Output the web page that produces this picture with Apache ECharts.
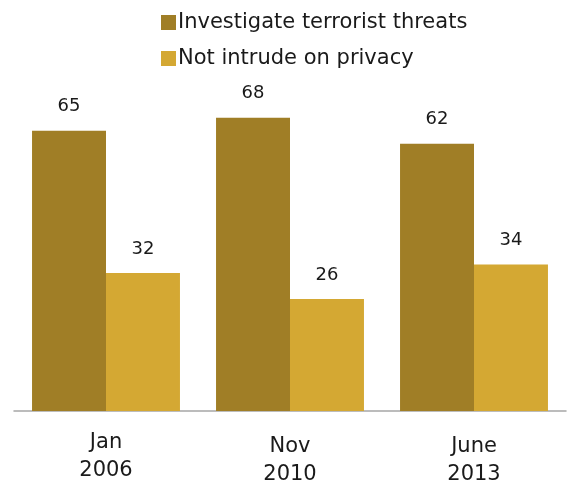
<!DOCTYPE html>
<html>
<head>
<meta charset="utf-8">
<script src="https://cdn.jsdelivr.net/npm/echarts@6/dist/echarts.min.js"></script>
<style>html,body{margin:0;padding:0;background:#fff}#c{width:568px;height:489px}</style>
</head>
<body>
<div id="c"></div>
<script>
var categories = ['Jan\n2006', 'Nov\n2010', 'June\n2013'];
var seriesNames = ['Investigate terrorist threats', 'Not intrude on privacy'];
var investigate = [65, 68, 62];
var privacy = [32, 26, 34];
var labelOffsets = [0, 4, 4];

var chart = echarts.init(document.getElementById('c'));
var font = 'DejaVu Sans, Verdana, sans-serif';
chart.setOption({
  animation: false,
  textStyle: { fontFamily: font },
  legend: {
    orient: 'vertical',
    left: 156,
    top: 7,
    itemWidth: 15,
    itemHeight: 15,
    itemGap: 15,
    icon: 'rect',
    textStyle: { fontSize: 21, color: '#1a1a1a', fontFamily: font, padding: [0, 0, 0, -3] },
    data: seriesNames
  },
  grid: { left: 14, right: 2, top: 66, bottom: 76 },
  xAxis: {
    type: 'category',
    data: categories.map(function (c, i) {
      return { value: c, textStyle: { padding: [labelOffsets[i], 0, 0, 0] } };
    }),
    axisLine: { lineStyle: { color: '#a6a6a6', width: 1.5 } },
    axisTick: { show: false },
    axisLabel: { fontSize: 21, color: '#1a1a1a', margin: 18, lineHeight: 28, fontFamily: font }
  },
  yAxis: { type: 'value', min: 0, max: 80, show: false, splitLine: { show: false } },
  series: [
    {
      name: seriesNames[0], type: 'bar', data: investigate,
      barGap: '0%', barCategoryGap: '19.6%',
      itemStyle: { color: '#a07e26' },
      label: { show: true, position: 'top', distance: 15, fontSize: 18, color: '#1a1a1a', fontFamily: font }
    },
    {
      name: seriesNames[1], type: 'bar', data: privacy,
      barGap: '0%', barCategoryGap: '19.6%',
      itemStyle: { color: '#d4a833' },
      label: { show: true, position: 'top', distance: 15, fontSize: 18, color: '#1a1a1a', fontFamily: font }
    }
  ]
});
</script>
</body>
</html>
